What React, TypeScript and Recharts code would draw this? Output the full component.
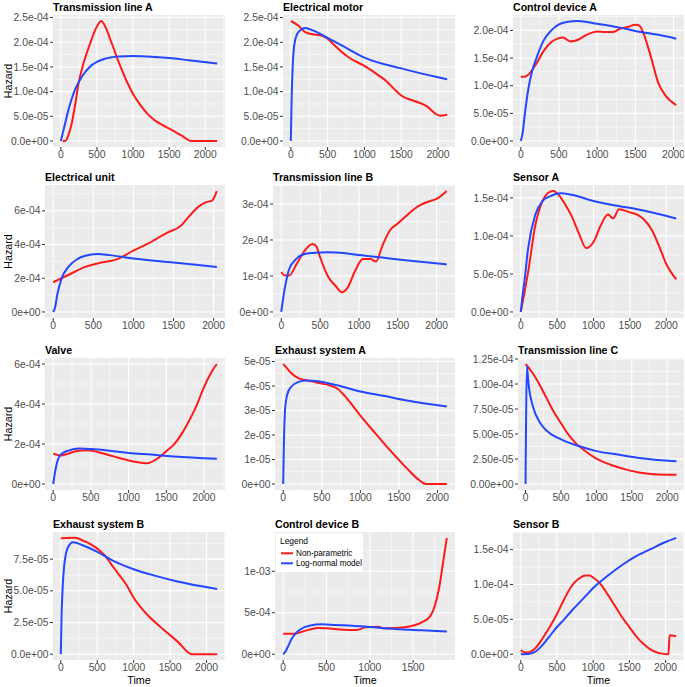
import React from "react";
import { LineChart, Line, XAxis, YAxis, CartesianGrid } from "recharts";

// ---------- data ----------
const xTicksStd = [0, 500, 1000, 1500, 2000];
const xTicksShort = [0, 500, 1000, 1500];

// Transmission line A
const tlaNpT = [25, 60, 100, 150, 200, 250, 300, 400, 500, 560, 600, 700, 800, 900, 1000, 1100, 1200, 1300, 1400, 1500, 1600, 1700, 1800, 2165];
const tlaNpV = [0, 0, 1e-5, 3.5e-5, 7.5e-5, 1.2e-4, 1.5e-4, 1.95e-4, 2.32e-4, 2.43e-4, 2.36e-4, 2.0e-4, 1.6e-4, 1.25e-4, 9.5e-5, 7.3e-5, 5.5e-5, 4.2e-5, 3.3e-5, 2.5e-5, 1.7e-5, 8.5e-6, 0, 0];
const tlaLnT = [0, 50, 100, 150, 200, 300, 400, 500, 600, 800, 1000, 1200, 1500, 1800, 2165];
const tlaLnV = [0, 3e-5, 6e-5, 8.5e-5, 1.05e-4, 1.32e-4, 1.5e-4, 1.6e-4, 1.66e-4, 1.71e-4, 1.72e-4, 1.71e-4, 1.68e-4, 1.63e-4, 1.57e-4];
const tlaYTicks = [0, 5e-5, 1e-4, 1.5e-4, 2e-4, 2.5e-4];
const tlaYLabels = ["0.0e+00", "5.0e-05", "1.0e-04", "1.5e-04", "2.0e-04", "2.5e-04"];

// Electrical motor
const emNpT = [0, 100, 200, 300, 400, 500, 600, 700, 800, 1000, 1200, 1300, 1400, 1500, 1700, 1850, 1960, 2030, 2125];
const emNpV = [2.43e-4, 2.34e-4, 2.2e-4, 2.16e-4, 2.14e-4, 2.07e-4, 1.93e-4, 1.79e-4, 1.68e-4, 1.52e-4, 1.32e-4, 1.21e-4, 1.06e-4, 9.2e-5, 8.0e-5, 7.0e-5, 5.6e-5, 5.1e-5, 5.3e-5];
const emLnT = [0, 10, 25, 50, 100, 200, 300, 500, 700, 1000, 1500, 2000, 2125];
const emLnV = [0, 8e-5, 1.5e-4, 1.97e-4, 2.2e-4, 2.29e-4, 2.24e-4, 2.09e-4, 1.93e-4, 1.69e-4, 1.47e-4, 1.29e-4, 1.25e-4];
const emYTicks = [0, 5e-5, 1e-4, 1.5e-4, 2e-4, 2.5e-4];
const emYLabels = ["0.0e+00", "5.0e-05", "1.0e-04", "1.5e-04", "2.0e-04", "2.5e-04"];

// Control device A
const cdaNpT = [0, 50, 100, 200, 300, 400, 500, 550, 650, 750, 850, 1000, 1100, 1200, 1300, 1400, 1500, 1550, 1600, 1700, 1800, 1900, 2035];
const cdaNpV = [1.16e-4, 1.16e-4, 1.2e-4, 1.39e-4, 1.63e-4, 1.79e-4, 1.86e-4, 1.87e-4, 1.8e-4, 1.83e-4, 1.91e-4, 1.98e-4, 1.97e-4, 1.97e-4, 2.03e-4, 2.06e-4, 2.1e-4, 2.09e-4, 1.97e-4, 1.54e-4, 1.05e-4, 8.1e-5, 6.5e-5];
const cdaLnT = [0, 25, 50, 100, 150, 200, 300, 400, 500, 600, 750, 1000, 1300, 1500, 1800, 2035];
const cdaLnV = [0, 1.5e-5, 4.5e-5, 9.5e-5, 1.27e-4, 1.48e-4, 1.82e-4, 2.0e-4, 2.11e-4, 2.15e-4, 2.17e-4, 2.12e-4, 2.05e-4, 1.99e-4, 1.92e-4, 1.85e-4];
const cdaYTicks = [0, 5e-5, 1e-4, 1.5e-4, 2e-4];
const cdaYLabels = ["0.0e+00", "5.0e-05", "1.0e-04", "1.5e-04", "2.0e-04"];

// Electrical unit
const euNpT = [0, 200, 400, 600, 800, 1000, 1200, 1400, 1600, 1700, 1800, 1900, 1980, 2040];
const euNpV = [1.76e-4, 2.22e-4, 2.67e-4, 2.93e-4, 3.13e-4, 3.64e-4, 4.1e-4, 4.65e-4, 5.15e-4, 5.7e-4, 6.2e-4, 6.5e-4, 6.6e-4, 7.17e-4];
const euLnT = [0, 25, 50, 100, 200, 300, 400, 550, 700, 1000, 1500, 2040];
const euLnV = [0, 3e-5, 1e-4, 1.92e-4, 2.73e-4, 3.13e-4, 3.33e-4, 3.43e-4, 3.37e-4, 3.17e-4, 2.93e-4, 2.67e-4];
const euYTicks = [0, 2e-4, 4e-4, 6e-4];
const euYLabels = ["0e+00", "2e-04", "4e-04", "6e-04"];

// Transmission line B
const tlbNpT = [0, 50, 100, 200, 300, 400, 450, 500, 600, 700, 780, 850, 950, 1050, 1150, 1220, 1300, 1400, 1500, 1600, 1700, 1800, 1900, 2000, 2130];
const tlbNpV = [1.11e-4, 1.01e-4, 1.01e-4, 1.34e-4, 1.7e-4, 1.89e-4, 1.83e-4, 1.52e-4, 9.9e-5, 7.2e-5, 5.5e-5, 6.6e-5, 1.14e-4, 1.47e-4, 1.47e-4, 1.4e-4, 1.83e-4, 2.27e-4, 2.46e-4, 2.65e-4, 2.84e-4, 2.98e-4, 3.07e-4, 3.14e-4, 3.36e-4];
const tlbLnT = [0, 25, 50, 100, 200, 300, 400, 600, 800, 1000, 1300, 1600, 2130];
const tlbLnV = [0, 4e-5, 7.1e-5, 1.18e-4, 1.49e-4, 1.61e-4, 1.64e-4, 1.66e-4, 1.64e-4, 1.58e-4, 1.51e-4, 1.44e-4, 1.32e-4];
const tlbYTicks = [0, 1e-4, 2e-4, 3e-4];
const tlbYLabels = ["0e+00", "1e-04", "2e-04", "3e-04"];

// Sensor A
const saNpT = [0, 50, 100, 200, 300, 400, 450, 500, 600, 700, 800, 900, 1000, 1100, 1200, 1270, 1350, 1500, 1600, 1700, 1800, 1900, 2000, 2137];
const saNpV = [0, 2.5e-5, 5.2e-5, 1.14e-4, 1.46e-4, 1.58e-4, 1.59e-4, 1.56e-4, 1.43e-4, 1.26e-4, 1.03e-4, 8.4e-5, 9.2e-5, 1.14e-4, 1.28e-4, 1.23e-4, 1.35e-4, 1.31e-4, 1.28e-4, 1.21e-4, 1.08e-4, 8.7e-5, 6.3e-5, 4.3e-5];
const saLnT = [0, 25, 50, 100, 200, 300, 400, 550, 700, 1000, 1300, 1600, 2137];
const saLnV = [0, 2.2e-5, 4e-5, 8.3e-5, 1.28e-4, 1.46e-4, 1.52e-4, 1.56e-4, 1.54e-4, 1.46e-4, 1.4e-4, 1.35e-4, 1.23e-4];
const saYTicks = [0, 5e-5, 1e-4, 1.5e-4];
const saYLabels = ["0.0e+00", "5.0e-05", "1.0e-04", "1.5e-04"];

// Valve
const vNpT = [0, 100, 200, 300, 450, 600, 800, 1000, 1200, 1250, 1400, 1500, 1600, 1700, 1800, 1900, 2000, 2100, 2170];
const vNpV = [1.52e-4, 1.43e-4, 1.52e-4, 1.64e-4, 1.69e-4, 1.59e-4, 1.38e-4, 1.18e-4, 1.05e-4, 1.04e-4, 1.32e-4, 1.64e-4, 1.97e-4, 2.48e-4, 3.15e-4, 3.91e-4, 4.84e-4, 5.6e-4, 6.0e-4];
const vLnT = [0, 25, 50, 100, 200, 350, 500, 800, 1000, 1300, 1600, 2170];
const vLnV = [0, 6e-5, 1.05e-4, 1.47e-4, 1.67e-4, 1.77e-4, 1.75e-4, 1.64e-4, 1.55e-4, 1.47e-4, 1.38e-4, 1.26e-4];
const vYTicks = [0, 2e-4, 4e-4, 6e-4];
const vYLabels = ["0e+00", "2e-04", "4e-04", "6e-04"];

// Exhaust system A
const esaNpT = [0, 50, 100, 200, 300, 400, 500, 600, 700, 800, 900, 1000, 1200, 1400, 1600, 1750, 1850, 2120];
const esaNpV = [4.9e-5, 4.72e-5, 4.54e-5, 4.31e-5, 4.24e-5, 4.17e-5, 4.1e-5, 4.03e-5, 3.9e-5, 3.59e-5, 3.2e-5, 2.79e-5, 2.05e-5, 1.32e-5, 6.5e-6, 1.9e-6, 0, 0];
const esaLnT = [0, 10, 25, 50, 100, 200, 300, 450, 700, 1000, 1300, 1600, 2120];
const esaLnV = [0, 1.8e-5, 3.07e-5, 3.62e-5, 3.96e-5, 4.17e-5, 4.23e-5, 4.2e-5, 4.03e-5, 3.78e-5, 3.6e-5, 3.41e-5, 3.16e-5];
const esaYTicks = [0, 1e-5, 2e-5, 3e-5, 4e-5, 5e-5];
const esaYLabels = ["0e+00", "1e-05", "2e-05", "3e-05", "4e-05", "5e-05"];

// Transmission line C
const tlcNpT = [0, 100, 200, 300, 400, 500, 600, 700, 800, 1000, 1200, 1400, 1600, 1800, 2130];
const tlcNpV = [1.2e-4, 1.11e-4, 9.9e-5, 8.54e-5, 7.19e-5, 6.07e-5, 4.98e-5, 4.14e-5, 3.53e-5, 2.54e-5, 1.93e-5, 1.49e-5, 1.15e-5, 9.8e-6, 9.2e-6];
const tlcLnT = [0, 20, 30, 50, 100, 200, 300, 500, 750, 1000, 1300, 1600, 2130];
const tlcLnV = [0, 1.18e-4, 1.1e-4, 9.56e-5, 7.86e-5, 6.17e-5, 5.32e-5, 4.47e-5, 3.8e-5, 3.29e-5, 2.95e-5, 2.61e-5, 2.27e-5];
const tlcYTicks = [0, 2.5e-5, 5e-5, 7.5e-5, 1e-4, 1.25e-4];
const tlcYLabels = ["0.00e+00", "2.50e-05", "5.00e-05", "7.50e-05", "1.00e-04", "1.25e-04"];

// Exhaust system B
const esbNpT = [0, 200, 300, 400, 500, 600, 700, 800, 900, 1000, 1100, 1200, 1400, 1600, 1800, 2146];
const esbNpV = [9.15e-5, 9.18e-5, 8.97e-5, 8.71e-5, 8.33e-5, 7.81e-5, 7.03e-5, 6.26e-5, 5.48e-5, 4.45e-5, 3.67e-5, 3.03e-5, 1.99e-5, 1.01e-5, 0, 0];
const esbLnT = [0, 10, 20, 50, 100, 170, 300, 500, 700, 1000, 1300, 1600, 2146];
const esbLnV = [0, 3e-5, 4.6e-5, 7.16e-5, 8.46e-5, 8.84e-5, 8.59e-5, 8.07e-5, 7.42e-5, 6.7e-5, 6.18e-5, 5.74e-5, 5.15e-5];
const esbYTicks = [0, 2.5e-5, 5e-5, 7.5e-5];
const esbYLabels = ["0.0e+00", "2.5e-05", "5.0e-05", "7.5e-05"];

// Control device B
const cdbNpT = [0, 100, 200, 300, 400, 500, 700, 850, 950, 1100, 1150, 1300, 1400, 1500, 1600, 1700, 1750, 1800, 1850, 1889];
const cdbNpV = [2.45e-4, 2.45e-4, 2.65e-4, 2.96e-4, 3.16e-4, 3.12e-4, 2.96e-4, 2.92e-4, 3.24e-4, 3.32e-4, 3.12e-4, 3.16e-4, 3.24e-4, 3.44e-4, 3.83e-4, 4.62e-4, 5.81e-4, 7.98e-4, 1.134e-3, 1.403e-3];
const cdbLnT = [0, 25, 50, 100, 150, 200, 300, 450, 600, 800, 1000, 1300, 1600, 1889];
const cdbLnV = [0, 3e-5, 8e-5, 1.9e-4, 2.55e-4, 3.0e-4, 3.44e-4, 3.6e-4, 3.52e-4, 3.44e-4, 3.28e-4, 3.04e-4, 2.88e-4, 2.73e-4];
const cdbYTicks = [0, 5e-4, 1e-3];
const cdbYLabels = ["0e+00", "5e-04", "1e-03"];

// Sensor B
const sbNpT = [0, 50, 100, 200, 300, 400, 500, 600, 700, 800, 900, 950, 1000, 1100, 1200, 1300, 1400, 1500, 1600, 1700, 1800, 1900, 2040, 2055, 2147];
const sbNpV = [6.1e-6, 2.8e-6, 2.3e-6, 8.4e-6, 2.25e-5, 3.89e-5, 5.77e-5, 7.88e-5, 9.75e-5, 1.083e-4, 1.13e-4, 1.13e-4, 1.1e-4, 1.01e-4, 8.58e-5, 6.94e-5, 5.3e-5, 3.89e-5, 2.48e-5, 1.41e-5, 6.1e-6, 1.9e-6, 0, 2.7e-5, 2.58e-5];
const sbLnT = [0, 100, 200, 300, 400, 500, 600, 700, 800, 900, 1000, 1200, 1400, 1600, 1800, 2000, 2147];
const sbLnV = [0, 3e-7, 3.5e-6, 1.3e-5, 2.6e-5, 3.9e-5, 5.0e-5, 6.2e-5, 7.3e-5, 8.4e-5, 9.5e-5, 1.125e-4, 1.28e-4, 1.41e-4, 1.51e-4, 1.61e-4, 1.67e-4];
const sbYTicks = [0, 5e-5, 1e-4, 1.5e-4];
const sbYLabels = ["0.0e+00", "5.0e-05", "1.0e-04", "1.5e-04"];

// ---------- layout / style ----------
const FONT = "'Liberation Sans', Arial, Helvetica, sans-serif";
const RED = "#FF1A1A";
const BLUE = "#2447FF";
const ROW_TOP = [15, 185, 358, 532];
const ROW_BOTTOM = [147, 318, 490, 660];
const COL_START = [0, 228, 455];
const TOP_PAD = 10;

type PanelCfg = {
  title: string;
  npT: number[]; npV: number[]; lnT: number[]; lnV: number[];
  yTicks: number[]; yLabels: string[]; xTicks: number[];
  row: number; col: number; plotLeft: number; plotRight: number;
};

const panels: PanelCfg[] = [
  { title: "Transmission line A", npT: tlaNpT, npV: tlaNpV, lnT: tlaLnT, lnV: tlaLnV, yTicks: tlaYTicks, yLabels: tlaYLabels, xTicks: xTicksStd, row: 0, col: 0, plotLeft: 53, plotRight: 225 },
  { title: "Electrical motor", npT: emNpT, npV: emNpV, lnT: emLnT, lnV: emLnV, yTicks: emYTicks, yLabels: emYLabels, xTicks: xTicksStd, row: 0, col: 1, plotLeft: 283, plotRight: 455 },
  { title: "Control device A", npT: cdaNpT, npV: cdaNpV, lnT: cdaLnT, lnV: cdaLnV, yTicks: cdaYTicks, yLabels: cdaYLabels, xTicks: xTicksStd, row: 0, col: 2, plotLeft: 513, plotRight: 684 },
  { title: "Electrical unit", npT: euNpT, npV: euNpV, lnT: euLnT, lnV: euLnV, yTicks: euYTicks, yLabels: euYLabels, xTicks: xTicksStd, row: 1, col: 0, plotLeft: 45, plotRight: 225 },
  { title: "Transmission line B", npT: tlbNpT, npV: tlbNpV, lnT: tlbLnT, lnV: tlbLnV, yTicks: tlbYTicks, yLabels: tlbYLabels, xTicks: xTicksStd, row: 1, col: 1, plotLeft: 273, plotRight: 455 },
  { title: "Sensor A", npT: saNpT, npV: saNpV, lnT: saLnT, lnV: saLnV, yTicks: saYTicks, yLabels: saYLabels, xTicks: xTicksStd, row: 1, col: 2, plotLeft: 513, plotRight: 684 },
  { title: "Valve", npT: vNpT, npV: vNpV, lnT: vLnT, lnV: vLnV, yTicks: vYTicks, yLabels: vYLabels, xTicks: xTicksStd, row: 2, col: 0, plotLeft: 45, plotRight: 225 },
  { title: "Exhaust system A", npT: esaNpT, npV: esaNpV, lnT: esaLnT, lnV: esaLnV, yTicks: esaYTicks, yLabels: esaYLabels, xTicks: xTicksStd, row: 2, col: 1, plotLeft: 275, plotRight: 455 },
  { title: "Transmission line C", npT: tlcNpT, npV: tlcNpV, lnT: tlcLnT, lnV: tlcLnV, yTicks: tlcYTicks, yLabels: tlcYLabels, xTicks: xTicksStd, row: 2, col: 2, plotLeft: 518, plotRight: 684 },
  { title: "Exhaust system B", npT: esbNpT, npV: esbNpV, lnT: esbLnT, lnV: esbLnV, yTicks: esbYTicks, yLabels: esbYLabels, xTicks: xTicksStd, row: 3, col: 0, plotLeft: 53, plotRight: 225 },
  { title: "Control device B", npT: cdbNpT, npV: cdbNpV, lnT: cdbLnT, lnV: cdbLnV, yTicks: cdbYTicks, yLabels: cdbYLabels, xTicks: xTicksShort, row: 3, col: 1, plotLeft: 275, plotRight: 455 },
  { title: "Sensor B", npT: sbNpT, npV: sbNpV, lnT: sbLnT, lnV: sbLnV, yTicks: sbYTicks, yLabels: sbYLabels, xTicks: xTicksStd, row: 3, col: 2, plotLeft: 513, plotRight: 684 },
];

function minorOf(ticks: number[], dom: [number, number]): number[] {
  const out: number[] = [];
  const step = ticks[1] - ticks[0];
  for (let i = 0; i < ticks.length - 1; i++) out.push((ticks[i] + ticks[i + 1]) / 2);
  out.push(ticks[ticks.length - 1] + step / 2);
  out.push(ticks[0] - step / 2);
  return out.filter((v) => v > dom[0] && v < dom[1]);
}

function Panel({ p }: { p: PanelCfg }) {
  const top = ROW_TOP[p.row];
  const plotH = ROW_BOTTOM[p.row] - top;
  const left = COL_START[p.col];
  const yw = p.plotLeft - left;
  const plotW = p.plotRight - p.plotLeft;
  const xh = 20;
  const np = p.npT.map((t, i) => ({ t, v: p.npV[i] }));
  const ln = p.lnT.map((t, i) => ({ t, v: p.lnV[i] }));
  const xMax = Math.max(...p.npT, ...p.lnT);
  const xDom: [number, number] = [-0.05 * xMax, 1.05 * xMax];
  const all = [...p.npV, ...p.lnV];
  const yMin = Math.min(...all);
  const yMax = Math.max(...all);
  const r = yMax - yMin;
  const yDom: [number, number] = [yMin - 0.05 * r, yMax + 0.05 * r];
  const xT = p.xTicks.filter((v) => v >= xDom[0] && v <= xDom[1]);
  const yT = p.yTicks.filter((v) => v >= yDom[0] && v <= yDom[1]);
  const fmtY = (v: number) => {
    const i = p.yTicks.findIndex((t) => Math.abs(t - v) < 1e-12);
    return i >= 0 ? p.yLabels[i] : "";
  };
  const tickStyle = { fill: "#4D4D4D", fontSize: 10.3, fontFamily: FONT };
  return (
    <div style={{ position: "absolute", left, top: top - TOP_PAD }}>
      <LineChart width={yw + plotW} height={plotH + xh + TOP_PAD} margin={{ top: TOP_PAD, right: 0, bottom: 0, left: 0 }}>
        <CartesianGrid fill="#EBEBEB" fillOpacity={1} stroke="#FFFFFF" strokeWidth={0.55} horizontalValues={minorOf(p.yTicks, yDom)} verticalValues={minorOf(p.xTicks, xDom)} />
        <CartesianGrid stroke="#FFFFFF" strokeWidth={1.1} horizontalValues={yT} verticalValues={xT} />
        <XAxis type="number" dataKey="t" domain={xDom} ticks={xT} allowDataOverflow interval={0} height={xh} axisLine={false} tickLine={{ stroke: "#333333" }} tickSize={3} tickMargin={1} tick={tickStyle} />
        <YAxis type="number" dataKey="v" domain={yDom} ticks={yT} allowDataOverflow interval={0} width={yw} axisLine={false} tickLine={{ stroke: "#333333" }} tickSize={3} tickMargin={1.5} tick={tickStyle} tickFormatter={fmtY} />
        <Line data={np} dataKey="v" type="monotone" stroke={RED} strokeWidth={2} dot={false} activeDot={false} isAnimationActive={false} />
        <Line data={ln} dataKey="v" type="monotone" stroke={BLUE} strokeWidth={2} dot={false} activeDot={false} isAnimationActive={false} />
      </LineChart>
    </div>
  );
}

export default function App() {
  return (
    <div style={{ position: "absolute", left: 0, top: 0, width: 685, height: 687, background: "#FFFFFF", overflow: "hidden" }}>
      {panels.map((p) => (
        <Panel key={p.title} p={p} />
      ))}
      <svg width={685} height={687} style={{ position: "absolute", left: 0, top: 0, pointerEvents: "none" }}>
        {panels.map((p) => (
          <text key={"t" + p.title} x={p.plotLeft} y={ROW_TOP[p.row] - 4.5} fontFamily={FONT} fontSize={10.6} fontWeight="bold" fill="#000">
            {p.title}
          </text>
        ))}
        {[0, 1, 2, 3].map((r) => (
          <text key={"h" + r} transform={`translate(11.5, ${(ROW_TOP[r] + ROW_BOTTOM[r]) / 2}) rotate(-90)`} textAnchor="middle" fontFamily={FONT} fontSize={10.7} fill="#000">
            Hazard
          </text>
        ))}
        {panels.filter((p) => p.row === 3).map((p) => (
          <text key={"x" + p.title} x={(p.plotLeft + p.plotRight) / 2} y={684} textAnchor="middle" fontFamily={FONT} fontSize={10.7} fill="#000">
            Time
          </text>
        ))}
        <g>
          <rect x={276} y={533} width={87} height={39} fill="#FFFFFF" />
          <text x={280} y={543.5} fontFamily={FONT} fontSize={8.4} fill="#000">Legend</text>
          <line x1={281} x2={293} y1={553.3} y2={553.3} stroke={RED} strokeWidth={2} />
          <text x={296} y={556.2} fontFamily={FONT} fontSize={8.2} fill="#000">Non-parametric</text>
          <line x1={281} x2={293} y1={563.3} y2={563.3} stroke={BLUE} strokeWidth={2} />
          <text x={296} y={566.2} fontFamily={FONT} fontSize={8.2} fill="#000">Log-normal model</text>
        </g>
      </svg>
    </div>
  );
}
